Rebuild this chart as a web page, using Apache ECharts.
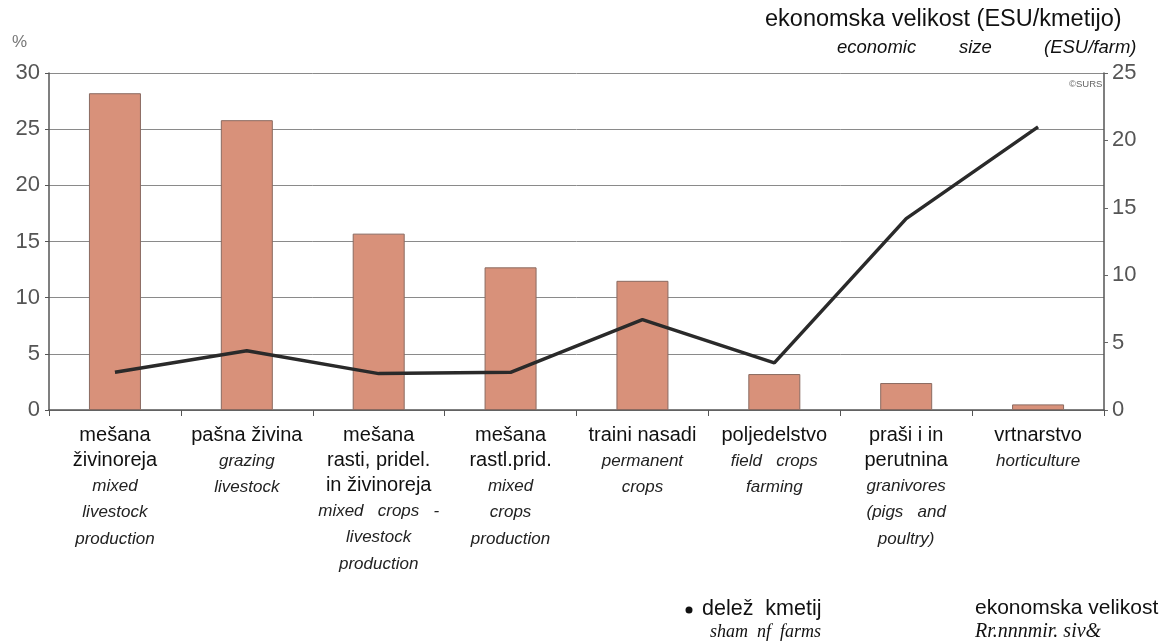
<!DOCTYPE html>
<html>
<head>
<meta charset="utf-8">
<script src="https://cdn.jsdelivr.net/npm/echarts@6/dist/echarts.min.js"></script>
<style>
html,body{margin:0;padding:0;background:#fff;}
#c{width:1166px;height:643px;}
</style>
</head>
<body>
<div id="c"></div>
<script>
const categoriesSl = ['mešana\nživinoreja', 'pašna živina', 'mešana\nrasti, pridel.\nin živinoreja', 'mešana\nrastl.prid.', 'traini nasadi', 'poljedelstvo', 'praši i in\nperutnina', 'vrtnarstvo'];
const categoriesEn = ['mixed\nlivestock\nproduction', 'grazing\nlivestock', 'mixed   crops   -\nlivestock\nproduction', 'mixed\ncrops\nproduction', 'permanent\ncrops', 'field   crops\nfarming', 'granivores\n(pigs   and\npoultry)', 'horticulture'];
const shareOfFarms = [28.2, 25.8, 15.7, 12.7, 11.5, 3.2, 2.4, 0.5];
const economicSize = [2.8, 4.4, 2.7, 2.8, 6.7, 3.5, 14.2, 21.0];
const leftTicks = [0, 5, 10, 15, 20, 25, 30];
const rightTicks = [0, 5, 10, 15, 20, 25];

const chart = echarts.init(document.getElementById('c'));

function makeLabel(i) {
  const sl = categoriesSl[i].split('\n').map(s => '{sl|' + s + '}');
  const en = categoriesEn[i].split('\n').map(s => '{en|' + s + '}');
  return sl.concat(en).join('\n');
}

const option = {
  backgroundColor: '#fff',
  animation: false,
  grid: { left: 49, right: 62, top: 73, bottom: 233, containLabel: false },
  xAxis: {
    type: 'category',
    data: categoriesSl.map((c, i) => i),
    boundaryGap: true,
    axisLine: { show: true, lineStyle: { color: '#555', width: 1.5 } },
    axisTick: { show: true, length: 6, lineStyle: { color: '#555' } },
    axisLabel: {
      interval: 0,
      margin: 13,
      formatter: (v, i) => makeLabel(i),
      rich: {
        sl: { fontFamily: 'Liberation Sans, Arial, sans-serif', fontSize: 20, color: '#111', lineHeight: 25 },
        en: { fontFamily: 'Liberation Sans, Arial, sans-serif', fontSize: 17, fontStyle: 'italic', color: '#222', lineHeight: 26.5 }
      }
    }
  },
  yAxis: [
    {
      type: 'value', min: 0, max: 30, interval: 5,
      axisLine: { show: true, lineStyle: { color: '#555', width: 1.5 } },
      axisTick: { show: true, length: 4, lineStyle: { color: '#555' } },
      axisLabel: {
        margin: 9, fontFamily: 'Liberation Sans, Arial, sans-serif', fontSize: 22, color: '#555',
        formatter: v => leftTicks.includes(v) ? String(v) : ''
      },
      splitLine: { show: true, lineStyle: { color: '#8a8a8a', width: 1 } }
    },
    {
      type: 'value', min: 0, max: 25, interval: 5, position: 'right',
      axisLine: { show: true, lineStyle: { color: '#555', width: 1.5 } },
      axisTick: { show: true, length: 4, lineStyle: { color: '#666' } },
      axisLabel: {
        margin: 8, fontFamily: 'Liberation Sans, Arial, sans-serif', fontSize: 22, color: '#555',
        formatter: v => rightTicks.includes(v) ? String(v) : ''
      },
      splitLine: { show: false }
    }
  ],
  series: [
    {
      name: 'delež kmetij',
      type: 'bar',
      yAxisIndex: 0,
      data: shareOfFarms,
      barWidth: 52,
      itemStyle: { color: '#D8917A', borderColor: '#8a6a60', borderWidth: 1 }
    },
    {
      name: 'ekonomska velikost',
      type: 'line',
      yAxisIndex: 1,
      data: economicSize,
      symbol: 'none',
      lineStyle: { color: '#2a2a2a', width: 3.5 },
      z: 5
    }
  ],
  graphic: [
    { type: 'text', left: 12, top: 34, style: { text: '%', font: '17px "Liberation Sans", Arial, sans-serif', fill: '#777' } },
    { type: 'text', left: 765, top: 8, style: { text: 'ekonomska velikost (ESU/kmetijo)', font: '23.5px "Liberation Sans", Arial, sans-serif', fill: '#111' } },
    { type: 'text', left: 837, top: 38, style: { text: 'economic', font: 'italic 18.5px "Liberation Sans", Arial, sans-serif', fill: '#111' } },
    { type: 'text', left: 959, top: 38, style: { text: 'size', font: 'italic 18.5px "Liberation Sans", Arial, sans-serif', fill: '#111' } },
    { type: 'text', left: 1044, top: 38, style: { text: '(ESU/farm)', font: 'italic 18.5px "Liberation Sans", Arial, sans-serif', fill: '#111' } },
    { type: 'text', left: 1069, top: 79, style: { text: '©SURS', font: '9.5px "Liberation Sans", Arial, sans-serif', fill: '#666' } },
    { type: 'circle', shape: { cx: 689, cy: 610, r: 3.5 }, style: { fill: '#111' } },
    { type: 'text', left: 702, top: 598, style: { text: 'delež  kmetij', font: '21.5px "Liberation Sans", Arial, sans-serif', fill: '#111' } },
    { type: 'text', left: 710, top: 623, style: { text: 'sham  nf  farms', font: 'italic 18px "Liberation Serif", "Times New Roman", serif', fill: '#111' } },
    { type: 'text', left: 975, top: 598, style: { text: 'ekonomska velikost', font: '21px "Liberation Sans", Arial, sans-serif', fill: '#111' } },
    { type: 'text', left: 975, top: 622, style: { text: 'Rr.nnnmir. siv&', font: 'italic 20px "Liberation Serif", "Times New Roman", serif', fill: '#111' } }
  ]
};
chart.setOption(option);
</script>
</body>
</html>
